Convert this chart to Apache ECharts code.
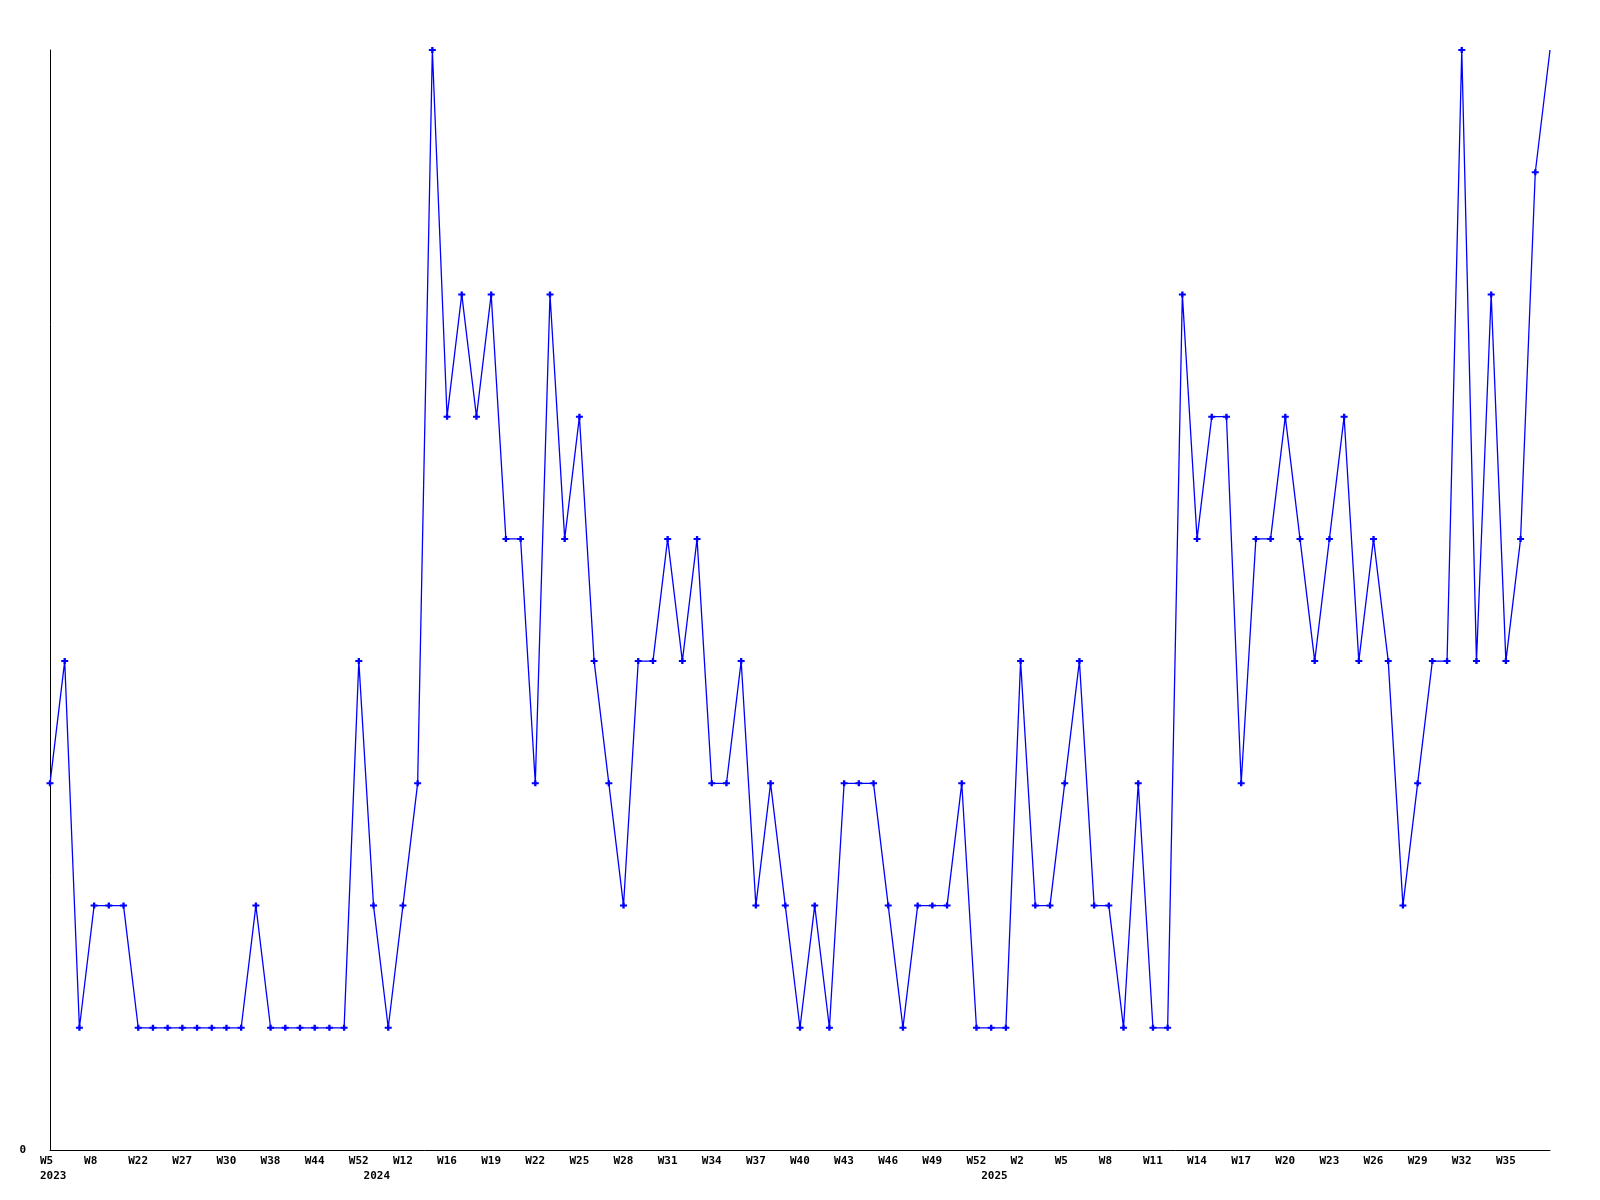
<!DOCTYPE html>
<html>
<head>
<meta charset="utf-8">
<script src="https://cdn.jsdelivr.net/npm/echarts@6/dist/echarts.min.js"></script>
<style>html,body{margin:0;padding:0;background:#fff}#chart{width:1600px;height:1200px}</style>
</head>
<body>
<div id="chart"></div>
<script>
// Week labels (category order as plotted), year of each week, and values
const weekLabels = [
  'W5','W6','W7','W8','W9','W10','W22','W23','W24','W27','W28','W29','W30','W31','W35','W38','W39','W41','W44','W45','W48','W52',
  'W10','W11','W12','W13','W14','W16','W17','W18','W19','W20','W21','W22','W23','W24','W25','W26','W27','W28','W29','W30','W31','W32',
  'W33','W34','W35','W36','W37','W38','W39','W40','W41','W42','W43','W44','W45','W46','W47','W48','W49','W50','W51','W52',
  'W0','W1','W2','W3','W4','W5','W6','W7','W8','W9','W10','W11','W12','W13','W14','W15','W16','W17','W18','W19','W20','W21',
  'W22','W23','W24','W25','W26','W27','W28','W29','W30','W31','W32','W33','W34','W35','W36','W37','W38'
];
const weekYears = [
  2023,2023,2023,2023,2023,2023,2023,2023,2023,2023,2023,2023,2023,2023,2023,2023,2023,2023,2023,2023,2023,2023,
  2024,2024,2024,2024,2024,2024,2024,2024,2024,2024,2024,2024,2024,2024,2024,2024,2024,2024,2024,2024,2024,2024,
  2024,2024,2024,2024,2024,2024,2024,2024,2024,2024,2024,2024,2024,2024,2024,2024,2024,2024,2024,2024,
  2025,2025,2025,2025,2025,2025,2025,2025,2025,2025,2025,2025,2025,2025,2025,2025,2025,2025,2025,2025,2025,2025,
  2025,2025,2025,2025,2025,2025,2025,2025,2025,2025,2025,2025,2025,2025,2025,2025,2025
];
const values = [
  3,4,1,2,2,2,1,1,1,1,1,1,1,1,2,1,1,1,1,1,1,4,
  2,1,2,3,9,6,7,6,7,5,5,3,7,5,6,4,3,2,4,4,5,4,
  5,3,3,4,2,3,2,1,2,1,3,3,3,2,1,2,2,2,3,1,
  1,1,4,2,2,3,4,2,2,1,3,1,1,7,5,6,6,3,5,5,6,5,
  4,5,6,4,5,4,2,3,4,4,9,4,7,4,5,8,9
];
const yTickLabels = ['0'];

const categories = weekLabels.map((w, i) => weekYears[i] + '-' + w);
const yearStart = {};
weekYears.forEach((y, i) => { if (i === 0 || weekYears[i - 1] !== y) yearStart[i] = String(y); });
const lastLabeled = 99;

const labelFont = { color: '#000', fontFamily: 'DejaVu Sans Mono', fontWeight: 'bold', fontSize: 11 };

const seriesData = values.map((v, i) => i === values.length - 1 ? { value: v, symbol: 'none' } : v);

const chart = echarts.init(document.getElementById('chart'), null, { renderer: 'canvas' });
chart.setOption({
  animation: false,
  backgroundColor: '#fff',
  grid: { left: 50, right: 50, top: 50, bottom: 50, containLabel: false },
  xAxis: [
    {
      type: 'category', data: categories, boundaryGap: false,
      axisLine: { show: true, lineStyle: { color: '#000', width: 1 } },
      axisTick: { show: false }, splitLine: { show: false },
      axisLabel: Object.assign({}, labelFont, {
        interval: (idx) => idx % 3 === 0 && idx <= lastLabeled,
        formatter: (val, idx) => weekLabels[idx],
        align: 'left', padding: [0, 0, 0, -10], margin: 6
      })
    },
    {
      type: 'category', data: categories, boundaryGap: false, position: 'bottom',
      axisLine: { show: false }, axisTick: { show: false }, splitLine: { show: false },
      axisLabel: Object.assign({}, labelFont, {
        interval: (idx) => yearStart[idx] !== undefined,
        formatter: (val, idx) => yearStart[idx] || '',
        align: 'left', padding: [0, 0, 0, -10], margin: 21
      })
    }
  ],
  yAxis: {
    type: 'value', min: 0, max: 9, interval: 1,
    axisLine: { show: true, lineStyle: { color: '#000', width: 1 } },
    axisTick: { show: false }, splitLine: { show: false },
    axisLabel: Object.assign({}, labelFont, {
      margin: 24,
      formatter: (v) => (v === 0 ? yTickLabels[0] : '')
    })
  },
  series: [{
    type: 'line', xAxisIndex: 0, data: seriesData,
    lineStyle: { color: '#0000ff', width: 1.3 },
    itemStyle: { color: '#0000ff', borderWidth: 0 },
    symbol: 'path://M2,0L4,0L4,2L6,2L6,4L4,4L4,6L2,6L2,4L0,4L0,2L2,2Z',
    symbolSize: [7, 6], showAllSymbol: true,
    emphasis: { disabled: true }
  }]
});
</script>
</body>
</html>
